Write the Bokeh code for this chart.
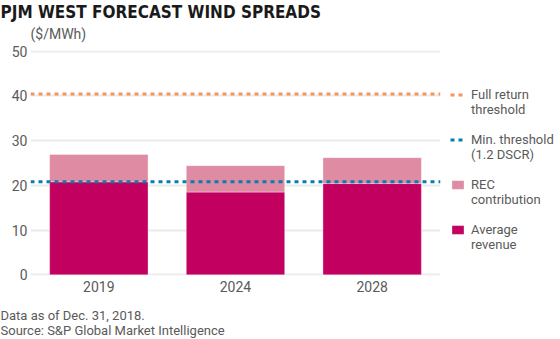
from bokeh.plotting import figure
from bokeh.models import ColumnDataSource, FactorRange, Range1d, Legend, LegendItem, Title
from bokeh.embed import file_html
from bokeh.resources import INLINE

# ---- data ----
years = ["2019", "2024", "2028"]
avg_revenue = [20.8, 18.5, 20.4]
rec_contribution = [6.1, 5.9, 5.8]
full_return_threshold = 40.4
min_threshold = 20.8
y_ticks = [0, 10, 20, 30, 40, 50]
legend_labels = ["Full return\nthreshold", "Min. threshold\n(1.2 DSCR)", "REC\ncontribution", "Average\nrevenue"]

C_AVG = "#C2005F"
C_REC = "#DE8BA3"
C_FULL = "#F7955F"
C_MIN = "#0A7DAA"
TXT = "#5A5A5A"
FONT = "Roboto"

p = figure(width=560, height=339, frame_width=410, frame_height=225,
           x_range=FactorRange(*years, range_padding=0),
           y_range=Range1d(-0.15, 50.15), output_backend="svg", toolbar_location=None,
           min_border_left=30, min_border_right=120, min_border_top=50, min_border_bottom=64)
p.outline_line_color = None
p.background_fill_color = "white"
p.border_fill_color = "white"

src = ColumnDataSource(dict(year=years, avg=avg_revenue, rec=rec_contribution))
bars = p.vbar_stack(["avg", "rec"], x="year", width=0.72, source=src,
                    color=[C_AVG, C_REC], line_color="white", line_alpha=0.35, line_width=1)

full_line = p.line(x=[0, 3], y=[full_return_threshold] * 2, line_color=C_FULL,
                   line_width=3, line_dash="4 4")
min_line = p.line(x=[0, 3], y=[min_threshold] * 2, line_color=C_MIN,
                  line_width=3, line_dash="4 4")

# axes
p.yaxis.ticker = y_ticks
p.yaxis.axis_line_color = None
p.yaxis.major_tick_line_color = None
p.yaxis.minor_tick_line_color = None
p.yaxis.major_tick_out = 0
p.yaxis.major_label_standoff = 3
p.yaxis.major_label_text_font = FONT
p.yaxis.major_label_text_font_size = "14px"
p.yaxis.major_label_text_color = TXT
p.xaxis.axis_line_color = None
p.xaxis.major_tick_line_color = None
p.xaxis.major_tick_out = 0
p.xaxis.major_label_standoff = 5
p.xaxis.major_label_text_font = FONT
p.xaxis.major_label_text_font_size = "14px"
p.xaxis.major_label_text_color = TXT
p.xgrid.grid_line_color = None
p.ygrid.grid_line_color = "#EBEBEB"
p.ygrid.grid_line_width = 2

# titles (top: spacer closest to frame, then units line, then main title)
p.title.text = "PJM WEST FORECAST WIND SPREADS"
p.title.text_font = "DejaVu Sans Condensed, Roboto"
p.title.text_font_size = "17px"
p.title.text_font_style = "bold"
p.title.text_color = "#1A1A1A"
p.title.align = "left"
p.title.offset = -30
p.title.standoff = 0
p.title.vertical_align = "top"


def spacer(gap):
    return Title(text=" ", text_font_size="1px", standoff=gap)


p.add_layout(spacer(6), "above")
p.add_layout(Title(text="($/MWh)", text_font=FONT, text_font_size="14px", text_font_style="normal",
                   text_color=TXT, align="left", offset=0, standoff=0, vertical_align="bottom"), "above")
p.add_layout(spacer(10), "below")
p.add_layout(Title(text="Data as of Dec. 31, 2018.\nSource: S&P Global Market Intelligence",
                   text_font=FONT, text_font_size="13px", text_font_style="normal", text_color=TXT,
                   align="left", offset=-30, standoff=0, vertical_align="top"), "below")

# legend (a blank first line keeps each glyph level with the first line of its label)
renderers = [full_line, min_line, bars[1], bars[0]]
legend = Legend(items=[LegendItem(label="\u00a0\n" + t, renderers=[r]) for t, r in zip(legend_labels, renderers)],
                location=(10, 23), glyph_width=15, glyph_height=11, label_height=12,
                spacing=0, padding=0, margin=0, label_standoff=6, border_line_color=None,
                background_fill_alpha=0, label_text_font=FONT, label_text_font_size="13px",
                label_text_color=TXT)
p.add_layout(legend, "right")

open("out.html", "w").write(file_html(p, INLINE))
